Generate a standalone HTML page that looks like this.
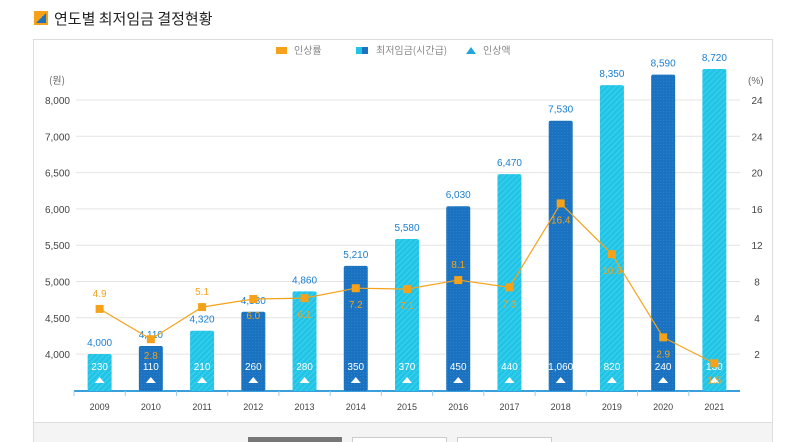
<!DOCTYPE html>
<html><head><meta charset="utf-8"><style>
body{margin:0;width:788px;height:442px;background:#fff;overflow:hidden;font-family:"Liberation Sans","Noto Sans CJK KR",sans-serif;}
</style></head><body>
<div style="position:absolute;left:34px;top:8px;font-size:15px;color:#222;font-family:'Noto Sans CJK KR',sans-serif;">
<span style="display:inline-block;width:10px;height:10px;border:2px solid #f5a21a;background:linear-gradient(135deg,#f5a21a 50%,#1a72c0 50%);vertical-align:-1px;margin-right:6px;"></span>연도별 최저임금 결정현황</div>
<svg id="c" width="788" height="442" style="position:absolute;left:0;top:0">
<defs>
<pattern id="pc" width="4" height="4" patternUnits="userSpaceOnUse" patternTransform="rotate(45)"><rect width="4" height="4" fill="#22c4e6"/><rect width="1" height="4" fill="#3fd0ee"/></pattern>
<pattern id="pd" width="3" height="3" patternUnits="userSpaceOnUse"><rect width="3" height="3" fill="#1a72c0"/><rect width="1" height="1" fill="#2a82cc"/></pattern>
</defs>
<rect x="33.5" y="39.5" width="739" height="403" fill="#fff" stroke="#ddd"/>
<rect x="34" y="422" width="738" height="20" fill="#f4f4f4"/>
<line x1="34" y1="422.5" x2="772" y2="422.5" stroke="#ddd"/>
<rect x="248" y="437" width="94" height="6" fill="#777"/>
<rect x="352.5" y="437.5" width="94" height="6" fill="#fff" stroke="#ccc"/>
<rect x="457.5" y="437.5" width="94" height="6" fill="#fff" stroke="#ccc"/>
<g font-size="10" fill="#888" font-family="'Noto Sans CJK KR',sans-serif">
<rect x="276" y="47" width="11" height="7" fill="#f5a21a"/><text x="294" y="54">인상률</text>
<rect x="356" y="47" width="6" height="7" fill="#22c4e6"/><rect x="362" y="47" width="6" height="7" fill="#1a72c0"/><text x="376" y="54">최저임금(시간급)</text>
<path d="M466 54 L471 47 L476 54 Z" fill="#22a4dc"/><text x="483" y="54">인상액</text>
</g>
<text x="49" y="84" font-size="10" fill="#666" font-family="'Noto Sans CJK KR',sans-serif">(원)</text>
<text x="748" y="84" font-size="10" fill="#666">(%)</text>
<g id="grid"></g><g id="bars"></g><g id="line"></g>
</svg>
<script>
const years=["2009","2010","2011","2012","2013","2014","2015","2016","2017","2018","2019","2020","2021"];
const wages=[4000,4110,4320,4580,4860,5210,5580,6030,6470,7530,8350,8590,8720];
const increments=[230,110,210,260,280,350,370,450,440,1060,820,240,130];
const rates=[4.9,2.8,5.1,6.0,6.1,7.2,7.1,8.1,7.3,16.4,10.9,2.9,1.5];
const rateAbove=[true,false,true,false,false,false,false,true,false,false,false,false,false];
const leftTicks=["8,000","7,000","6,500","6,000","5,500","5,000","4,500","4,000"];
const rightTicks=["24","24","20","16","12","8","4","2"];
const NS="http://www.w3.org/2000/svg";
function mk(t,a,p){const e=document.createElementNS(NS,t);for(const k in a)e.setAttribute(k,a[k]);p.appendChild(e);return e;}
const x0=74,x1=740,step=(x1-x0)/years.length;
function xc(i){return x0+step*(i+0.5);}
function interp(v,kv,ky){for(let k=0;k<kv.length-1;k++){if(v<=kv[k+1]||k==kv.length-2){return ky[k]+(v-kv[k])*(ky[k+1]-ky[k])/(kv[k+1]-kv[k]);}}}
function yw(v){return interp(v,[4000,6500,7500,8720],[354,172,122,69]);}
function yr(v){return interp(v,[2,4,8,12,16,20],[354,317,281,244,207,171]);}
const base=391;
const g=document.getElementById('grid'),b=document.getElementById('bars'),l=document.getElementById('line');
leftTicks.forEach((t,i)=>{const y=100+i*36.3;
 mk('line',{x1:76,x2:740,y1:y,y2:y,stroke:'#e4e4e4'},g);
 const a=mk('text',{x:70,y:y+4,'font-size':10,fill:'#444','text-anchor':'end'},g);a.textContent=t;
 
 const r=mk('text',{x:757,y:y+4,'font-size':10,fill:'#444','text-anchor':'middle'},g);r.textContent=rightTicks[i];
 });
mk('line',{x1:x0,x2:x1,y1:base,y2:base,stroke:'#3aa0dc','stroke-width':2},g);
years.forEach((yv,i)=>{const cx=xc(i),dark=i%2==1;
 mk('line',{x1:x0+step*i,x2:x0+step*i,y1:base,y2:base+5,stroke:'#9cd0ee'},g);
 const r=mk('rect',{x:cx-12,y:yw(wages[i]),width:24,height:base-yw(wages[i]),rx:2,fill:dark?'url(#pd)':'url(#pc)'},b);
 
 const v=mk('text',{x:cx,y:yw(wages[i])-8,'font-size':10,fill:'#1a7ed0','text-anchor':'middle'},b);v.textContent=wages[i].toLocaleString('en-US');
 
 const t=mk('path',{d:`M${cx-5} ${base-8} L${cx} ${base-14} L${cx+5} ${base-8} Z`,fill:'#fff'},b);
 
 const it=mk('text',{x:cx,y:base-21,'font-size':10,fill:'#fff','text-anchor':'middle'},b);it.textContent=increments[i].toLocaleString('en-US');
 
 const xl=mk('text',{x:cx,y:410,'font-size':9,fill:'#444','text-anchor':'middle'},g);xl.textContent=yv;
 });
const pts=rates.map((r,i)=>xc(i)+','+yr(r)).join(' ');
const pl=mk('polyline',{points:pts,fill:'none',stroke:'#f5a21a','stroke-width':1.2},l);

rates.forEach((r,i)=>{const cx=xc(i),cy=yr(r);
 const p=mk('rect',{x:cx-4,y:cy-4,width:8,height:8,fill:'#f5a21a'},l);
 
 const t=mk('text',{x:cx,y:rateAbove[i]?cy-12:cy+20,'font-size':10,fill:'#f5a21a','text-anchor':'middle'},l);t.textContent=r.toFixed(1);
 });
</script>
</body></html>
